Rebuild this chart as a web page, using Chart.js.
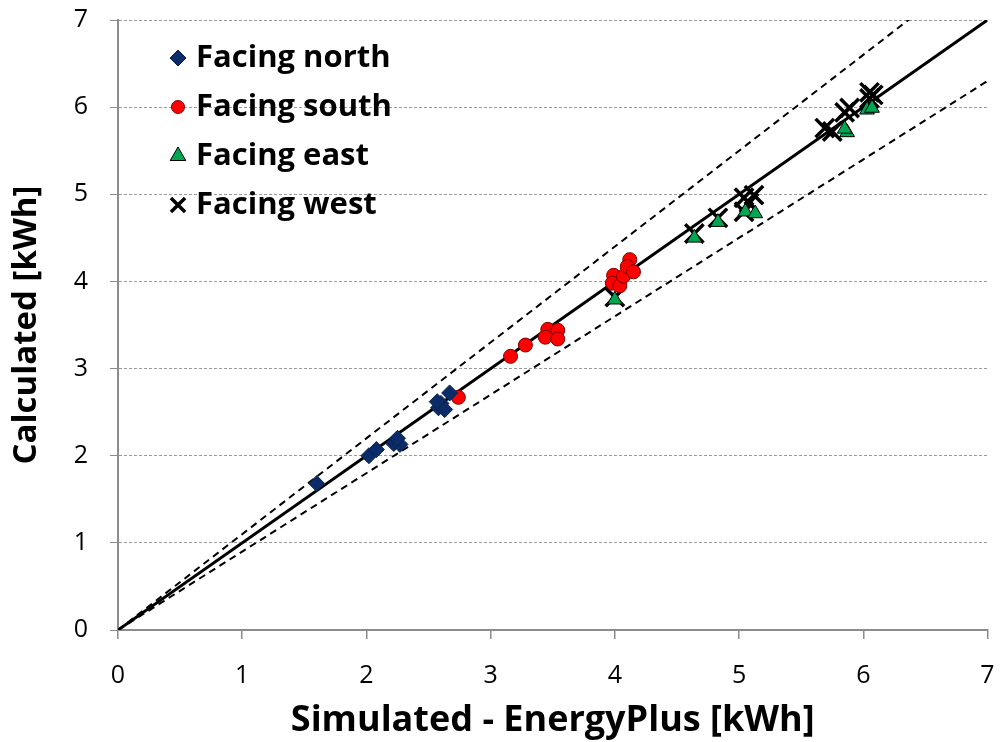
<!DOCTYPE html>
<html>
<head>
<meta charset="utf-8">
<script src="https://cdn.jsdelivr.net/npm/chart.js@4.4.1/dist/chart.umd.min.js"></script>
<style>
  html, body { margin: 0; padding: 0; background: #fff; }
  #wrap { width: 1004px; height: 742px; position: relative; }
</style>
</head>
<body>
<div id="wrap"><canvas id="chart" width="1004" height="742"></canvas></div>
<script>
// simulated (EnergyPlus) vs calculated, kWh
const northX = [1.60, 2.02, 2.08, 2.22, 2.27, 2.25, 2.58, 2.60, 2.63, 2.67, 2.57];
const northY = [1.68, 2.00, 2.07, 2.14, 2.13, 2.20, 2.55, 2.60, 2.53, 2.72, 2.62];

const southX = [2.74, 3.16, 3.28, 3.46, 3.54, 3.44, 3.54, 3.99, 3.98, 4.04, 4.07, 4.12, 4.10, 4.15];
const southY = [2.67, 3.14, 3.27, 3.45, 3.44, 3.36, 3.34, 4.07, 3.98, 3.95, 4.06, 4.25, 4.17, 4.11];

const eastX = [4.00, 4.64, 4.83, 5.05, 5.13, 5.87, 5.85, 6.03, 6.07];
const eastY = [3.79, 4.50, 4.68, 4.80, 4.78, 5.71, 5.75, 5.97, 5.99];

const westX = [4.00, 4.64, 4.83, 5.04, 5.08, 5.04, 5.12, 5.69, 5.75, 5.89, 5.85, 6.05, 6.08, 6.05];
const westY = [3.82, 4.55, 4.73, 4.96, 4.90, 4.80, 4.99, 5.76, 5.72, 5.99, 5.94, 6.17, 6.14, 6.10];

// reference lines: y = x and +/-10 %
const lineX = [0, 7];
const slopes = [1.0, 1.1, 0.9];

const axisTicks = [0, 1, 2, 3, 4, 5, 6, 7];

const pts = (xs, ys) => xs.map((x, i) => ({ x: x, y: ys[i] }));

const FONT = '"Open Sans", Lato, sans-serif';

const scatter = (label, xs, ys, style, bg, border, radius, bw, legendRadius) => ({
  type: 'scatter',
  label: label,
  data: pts(xs, ys),
  pointStyle: style,
  backgroundColor: bg,
  borderColor: border,
  borderWidth: bw,
  pointRadius: radius,
  pointHoverRadius: radius,
  legendRadius: legendRadius,
  showInLegend: true,
  order: 1
});

const refLine = (k, dash) => ({
  type: 'line',
  label: 'ref' + k,
  data: lineX.map(x => ({ x: x, y: k * x })),
  borderColor: '#000',
  borderWidth: dash ? 2 : 3,
  borderDash: dash ? [7, 5] : [],
  pointRadius: 0,
  fill: false,
  order: 5
});

// legend drawn inside the plot, top left
const innerLegend = {
  id: 'innerLegend',
  afterDraw(chart) {
    const ctx = chart.ctx;
    const items = chart.data.datasets.filter(d => d.showInLegend);
    items.forEach((ds, i) => {
      const cy = 58 + i * 49;
      ctx.save();
      ctx.fillStyle = ds.backgroundColor;
      ctx.strokeStyle = ds.borderColor;
      ctx.lineWidth = ds.borderWidth;
      Chart.helpers.drawPoint(ctx, {
        pointStyle: ds.pointStyle, radius: ds.legendRadius,
        borderWidth: ds.borderWidth, rotation: 0
      }, 178, cy);
      ctx.fillStyle = '#000';
      ctx.font = 'bold 31px ' + FONT;
      ctx.textBaseline = 'middle';
      ctx.fillText(ds.label, 196, cy);
      ctx.restore();
    });
  }
};

new Chart(document.getElementById('chart'), {
  data: {
    datasets: [
      scatter('Facing north', northX, northY, 'rectRot', '#0C2C69', '#0A1F4A', 8, 1, 8),
      scatter('Facing south', southX, southY, 'circle', '#FF0000', '#7A0000', 7, 1, 6.5),
      scatter('Facing east', eastX, eastY, 'triangle', '#00A651', '#000000', 8.5, 1, 9),
      scatter('Facing west', westX, westY, 'crossRot', '#000', '#000', 13, 3.5, 10),
      refLine(slopes[0], false),
      refLine(slopes[1], true),
      refLine(slopes[2], true)
    ]
  },
  options: {
    responsive: false,
    animation: false,
    events: [],
    layout: { padding: { top: 20, right: 10, left: 0, bottom: 0 } },
    plugins: { legend: { display: false }, tooltip: { enabled: false } },
    scales: {
      x: {
        type: 'linear',
        min: 0, max: 7,
        afterBuildTicks: s => { s.ticks = axisTicks.map(v => ({ value: v })); },
        afterFit: s => { s.height = 112; s.paddingLeft = 0; s.paddingRight = 0; },
        grid: { drawOnChartArea: false, drawTicks: true, tickLength: 9, color: '#8c8c8c', lineWidth: 1.5 },
        border: { color: '#8c8c8c', width: 2 },
        ticks: { color: '#000', font: { family: FONT, size: 25 }, padding: 22 },
        title: { display: true, text: 'Simulated - EnergyPlus [kWh]', color: '#000',
                 font: { family: FONT, size: 36, weight: 'bold' }, padding: { top: 0, bottom: 0 } }
      },
      y: {
        type: 'linear',
        min: 0, max: 7,
        afterBuildTicks: s => { s.ticks = axisTicks.map(v => ({ value: v })); },
        afterFit: s => { s.width = 118; s.paddingTop = 0; s.paddingBottom = 0; },
        grid: { drawOnChartArea: true, drawTicks: true, tickLength: 8, color: '#9a9a9a', lineWidth: 1,
                tickBorderDash: [], tickColor: '#8c8c8c' },
        border: { color: '#8c8c8c', width: 2, dash: [3, 2] },
        ticks: { color: '#000', font: { family: FONT, size: 25 }, padding: 22 },
        title: { display: true, text: 'Calculated [kWh]', color: '#000',
                 font: { family: FONT, size: 33, weight: 'bold' }, padding: { top: 7, bottom: 0 } }
      }
    }
  },
  plugins: [innerLegend]
});
</script>
</body>
</html>
